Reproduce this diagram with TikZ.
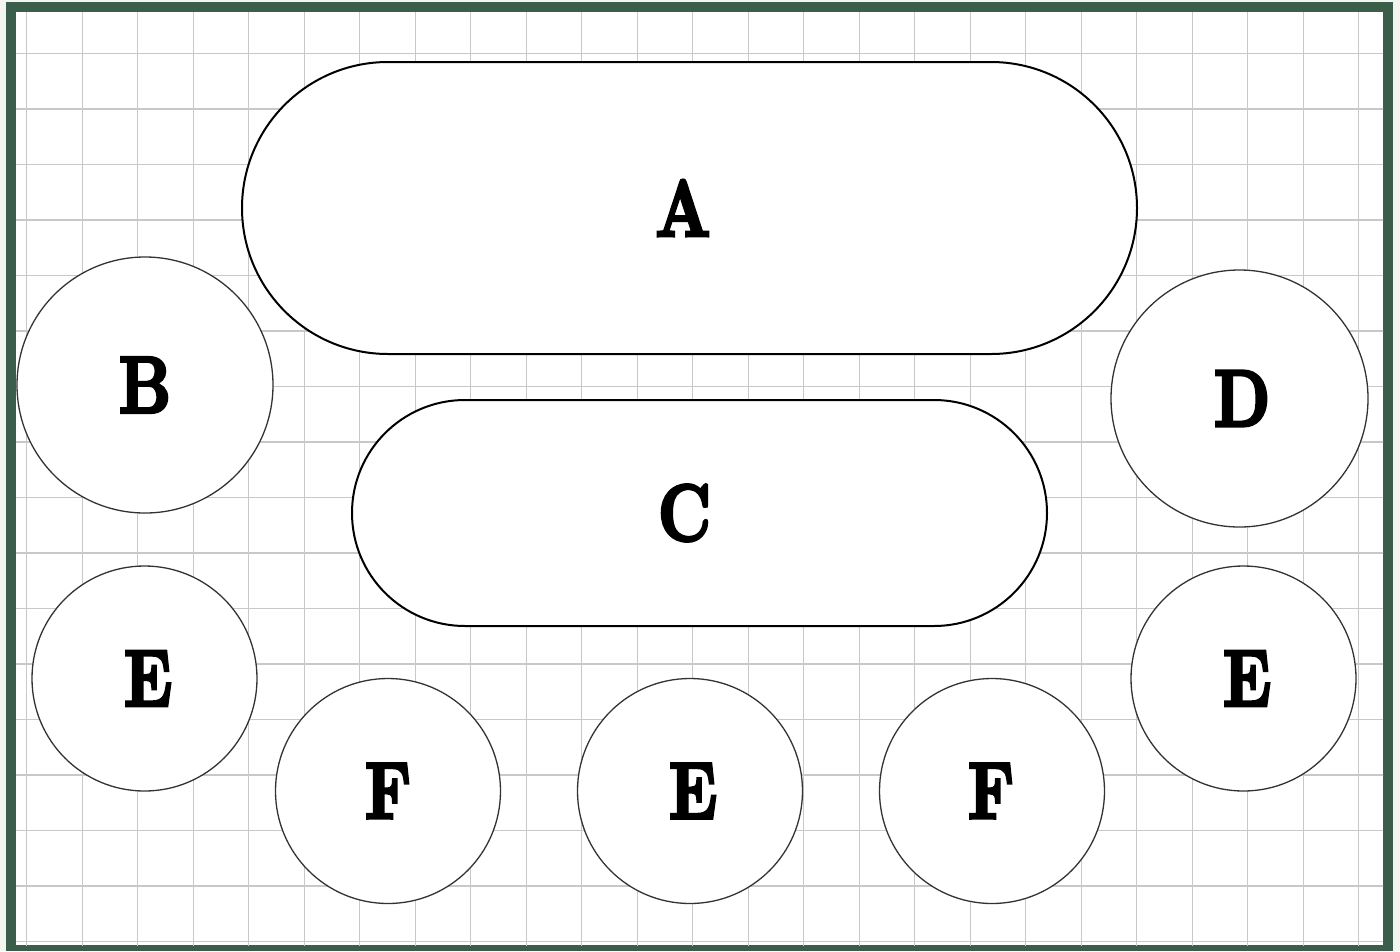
\documentclass[tikz,border=0pt]{standalone}
\usepackage{fontspec}
\usetikzlibrary{shapes.misc}
\newfontfamily\heavyfont[FakeBold=4]{lmroman10-bold.otf}
\definecolor{bgcol}{HTML}{F3F6EE}
\definecolor{framecol}{HTML}{3A5E4A}
\definecolor{gridcol}{HTML}{C8C8C8}
\definecolor{circcol}{HTML}{333333}
\newcommand{\lab}[2]{\kern#1pt\scalebox{0.8}[1]{\fontsize{80}{80}\heavyfont #2}\kern-#1pt}
\tikzset{
  pill/.style={draw=black, line width=2pt, fill=white, rounded rectangle, inner sep=0pt},
  disc/.style={draw=circcol, line width=1.3pt, fill=white, circle, inner sep=0pt},
  gridline/.style={draw=gridcol, line width=1.4pt}
}
\begin{document}
\begin{tikzpicture}[x=1pt, y=-1pt]
\useasboundingbox (0,0) rectangle (1400,951);
\fill[bgcol] (0,0) rectangle (1400,951);
\fill[framecol] (6,2) rectangle (1393,951);
\fill[white] (16,12) rectangle (1383,945);
\begin{scope}
\clip (16,12) rectangle (1383,945);
\foreach \k in {0,...,24} {
  \draw[gridline] ({26.7+55.5*\k},0) -- ({26.7+55.5*\k},951);
}
\foreach \k in {-1,...,16} {
  \draw[gridline] (0,{53.3+55.5*\k}) -- (1400,{53.3+55.5*\k});
}
\end{scope}
\node[pill, minimum width=895pt, minimum height=292pt] (A) at (689.5,208) {\lab{-6.5}{A}};
\node[pill, minimum width=695pt, minimum height=226pt] (C) at (699.5,513) {\lab{-15}{C}};
\node[disc, minimum size=256pt] (B) at (145,385) {\lab{0}{B}};
\node[disc, minimum size=257pt] (D) at (1239.5,398.5) {\lab{2.5}{D}};
\node[disc, minimum size=225pt] (E1) at (144.5,678.5) {\lab{3.5}{E}};
\node[disc, minimum size=225pt] (F1) at (388,791) {\lab{0}{F}};
\node[disc, minimum size=225pt] (E2) at (690,791) {\lab{3}{E}};
\node[disc, minimum size=225pt] (F2) at (992,791) {\lab{-1}{F}};
\node[disc, minimum size=225pt] (E3) at (1243.5,678.5) {\lab{3.5}{E}};
\end{tikzpicture}
\end{document}
